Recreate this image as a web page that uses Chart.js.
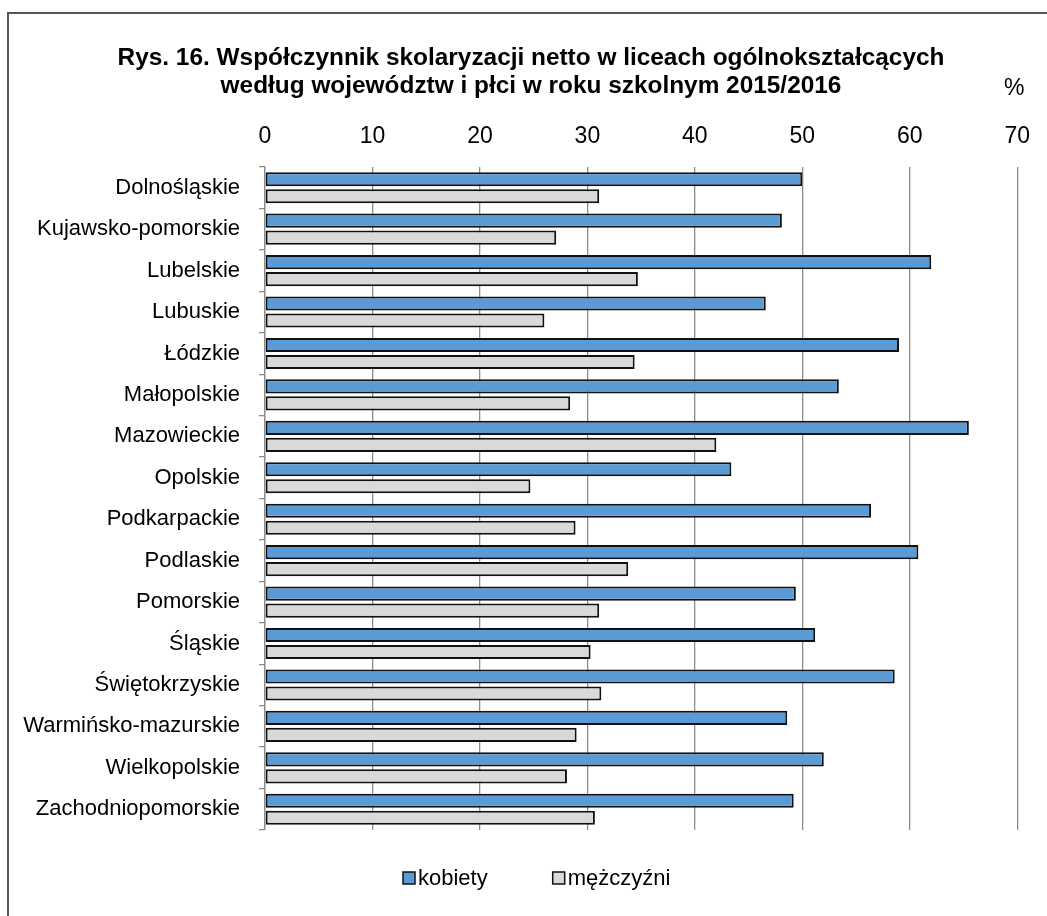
<!DOCTYPE html>
<html lang="pl">
<head>
<meta charset="utf-8">
<title>Rys. 16</title>
<script src="https://cdn.jsdelivr.net/npm/chart.js@4.4.1/dist/chart.umd.min.js"></script>
<style>
    html, body { margin: 0; padding: 0; background: #ffffff; }
    #wrap { width: 1047px; height: 916px; }
</style>
</head>
<body>
<div id="wrap"><canvas id="enrolChart" width="1047" height="916"></canvas></div>
<script>
// Data (%)
const regions = [
    'Dolnośląskie', 'Kujawsko-pomorskie', 'Lubelskie', 'Lubuskie', 'Łódzkie',
    'Małopolskie', 'Mazowieckie', 'Opolskie', 'Podkarpackie', 'Podlaskie',
    'Pomorskie', 'Śląskie', 'Świętokrzyskie', 'Warmińsko-mazurskie',
    'Wielkopolskie', 'Zachodniopomorskie'
];
const women = [50.0, 48.1, 62.0, 46.6, 59.0, 53.4, 65.5, 43.4, 56.4, 60.8, 49.4, 51.2, 58.6, 48.6, 52.0, 49.2];
const men   = [31.1, 27.1, 34.7, 26.0, 34.4, 28.4, 42.0, 24.7, 28.9, 33.8, 31.1, 30.3, 31.3, 29.0, 28.1, 30.7];
const seriesNames = ['kobiety', 'mężczyźni'];
const xTicks = [0, 10, 20, 30, 40, 50, 60, 70];

const titleLines = [
    'Rys. 16. Współczynnik skolaryzacji netto w liceach ogólnokształcących',
    'według województw i płci w roku szkolnym 2015/2016'
];

const SANS = "'Liberation Sans', Arial, sans-serif";

// frame, title, "%" unit and the legend row under the plot
const decorPlugin = {
    id: 'decor',
    beforeDraw(chart) {
        const ctx = chart.ctx;
        ctx.save();
        ctx.strokeStyle = '#555555';
        ctx.lineWidth = 2;
        ctx.beginPath();
        ctx.moveTo(8, chart.height);
        ctx.lineTo(8, 13);
        ctx.lineTo(chart.width, 13);
        ctx.stroke();
        ctx.restore();
    },
    afterDraw(chart) {
        const ctx = chart.ctx;
        ctx.save();
        ctx.fillStyle = '#000000';
        ctx.textBaseline = 'alphabetic';

        // title
        ctx.font = 'bold 24.4px ' + SANS;
        ctx.textAlign = 'center';
        titleLines.forEach((line, i) => ctx.fillText(line, 531, 65 + i * 28));

        // unit
        ctx.font = '23px ' + SANS;
        ctx.fillText('%', chart.scales.x.getPixelForValue(70) - 3, 95);

        // legend
        ctx.font = '22px ' + SANS;
        ctx.textAlign = 'left';
        ctx.textBaseline = 'middle';
        let x = 403;
        const y = 878;
        chart.data.datasets.forEach(ds => {
            ctx.fillStyle = ds.backgroundColor;
            ctx.fillRect(x, y - 6, 12, 12);
            ctx.strokeStyle = '#111111';
            ctx.lineWidth = 1.5;
            ctx.strokeRect(x, y - 6, 12, 12);
            ctx.fillStyle = '#000000';
            ctx.fillText(ds.label, x + 15, y + 1);
            x += 15 + ctx.measureText(ds.label).width + 65;
        });
        ctx.restore();
    }
};

const ctx = document.getElementById('enrolChart').getContext('2d');
new Chart(ctx, {
    type: 'bar',
    data: {
        labels: regions,
        datasets: [{
            label: seriesNames[0],
            data: women,
            backgroundColor: '#5B9BD5',
            borderColor: '#111111',
            borderWidth: 2,
            borderSkipped: false,
            categoryPercentage: 0.82,
            barPercentage: 0.83
        }, {
            label: seriesNames[1],
            data: men,
            backgroundColor: '#D9D9D9',
            borderColor: '#111111',
            borderWidth: 2,
            borderSkipped: false,
            categoryPercentage: 0.82,
            barPercentage: 0.83
        }]
    },
    options: {
        indexAxis: 'y',
        responsive: false,
        animation: false,
        layout: {
            padding: { left: 10, right: 23, top: 107, bottom: 86 }
        },
        plugins: {
            title: { display: false },
            legend: { display: false },
            tooltip: { enabled: false }
        },
        scales: {
            x: {
                position: 'top',
                min: 0,
                max: 70,
                afterBuildTicks: function(scale) {
                    scale.ticks = xTicks.map(v => ({ value: v }));
                },
                afterFit: function(scale) {
                    scale.height = 60;
                },
                border: { display: false },
                grid: {
                    color: '#8c8c8c',
                    lineWidth: 1.3,
                    drawTicks: false
                },
                ticks: {
                    color: '#000000',
                    font: { family: SANS, size: 23 },
                    padding: 17
                }
            },
            y: {
                afterFit: function(scale) {
                    scale.width = 255;
                },
                border: { display: true, color: '#8c8c8c', width: 1.3 },
                grid: {
                    offset: true,
                    drawOnChartArea: false,
                    color: '#8c8c8c',
                    lineWidth: 1.3,
                    tickLength: 6
                },
                ticks: {
                    color: '#000000',
                    font: { family: SANS, size: 22 },
                    padding: 19,
                    autoSkip: false
                }
            }
        }
    },
    plugins: [decorPlugin]
});
</script>
</body>
</html>
